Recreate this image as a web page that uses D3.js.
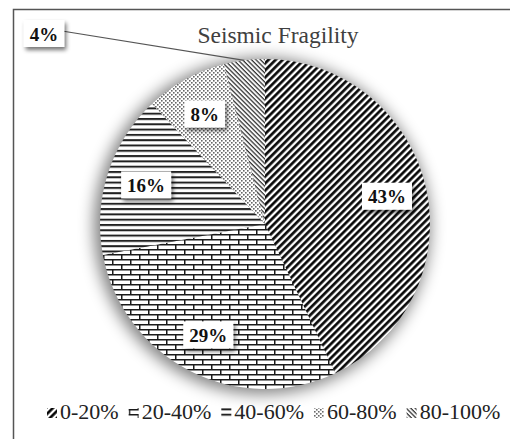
<!DOCTYPE html>
<html>
<head>
<meta charset="utf-8">
<script src="https://cdn.jsdelivr.net/npm/d3@7"></script>
<style>
  body { margin: 0; background: #fff; }
  svg { display: block; font-family: "Liberation Serif", "Times New Roman", serif; }
</style>
</head>
<body>
<svg id="chart" width="510" height="439"></svg>
<script>
// chart data
var categories = ['0-20%', '20-40%', '40-60%', '60-80%', '80-100%'];
var values = [43, 29, 16, 8, 4];
var labels = ['43%', '29%', '16%', '8%', '4%'];
var patternIds = ['p-diag', 'p-brick', 'p-hline', 'p-dots', 'p-back'];

var svg = d3.select('#chart');

var cx = 265, cy = 224, radius = 165;

var defs = svg.append('defs');

/*
 * Fill patterns
 */
var diag = defs.append('pattern')
  .attr('id', 'p-diag')
  .attr('patternUnits', 'userSpaceOnUse')
  .attr('width', 5).attr('height', 10)
  .attr('patternTransform', 'rotate(45)');
diag.append('rect').attr('width', 5).attr('height', 10).attr('fill', '#fff');
diag.append('line').attr('x1', 1.4).attr('x2', 1.4).attr('y1', 0).attr('y2', 10)
  .attr('stroke', '#000').attr('stroke-width', 2.6);

var brick = defs.append('pattern')
  .attr('id', 'p-brick')
  .attr('patternUnits', 'userSpaceOnUse')
  .attr('width', 18).attr('height', 10);
brick.append('rect').attr('width', 18).attr('height', 10).attr('fill', '#fff');
brick.append('path')
  .attr('d', 'M0,0.75H18M0,5.75H18M0.75,0V5.75M9.75,5.75V10')
  .attr('stroke', '#1a1a1a').attr('stroke-width', 1.5).attr('fill', 'none');

var hline = defs.append('pattern')
  .attr('id', 'p-hline')
  .attr('patternUnits', 'userSpaceOnUse')
  .attr('width', 10).attr('height', 5.3);
hline.append('rect').attr('width', 10).attr('height', 5.3).attr('fill', '#fff');
hline.append('line').attr('x1', 0).attr('x2', 10).attr('y1', 1).attr('y2', 1)
  .attr('stroke', '#222').attr('stroke-width', 2);

var dots = defs.append('pattern')
  .attr('id', 'p-dots')
  .attr('patternUnits', 'userSpaceOnUse')
  .attr('width', 4).attr('height', 4);
dots.append('rect').attr('width', 4).attr('height', 4).attr('fill', '#fff');
dots.append('rect').attr('x', 0).attr('y', 0).attr('width', 1.6).attr('height', 1.6).attr('fill', '#666');
dots.append('rect').attr('x', 2).attr('y', 2).attr('width', 1.6).attr('height', 1.6).attr('fill', '#666');

var back = defs.append('pattern')
  .attr('id', 'p-back')
  .attr('patternUnits', 'userSpaceOnUse')
  .attr('width', 3.2).attr('height', 10)
  .attr('patternTransform', 'rotate(-45)');
back.append('rect').attr('width', 3.2).attr('height', 10).attr('fill', '#fff');
back.append('line').attr('x1', 1).attr('x2', 1).attr('y1', 0).attr('y2', 10)
  .attr('stroke', '#333').attr('stroke-width', 1.3);

// soft glow under the pie
defs.append('filter').attr('id', 'glow')
  .attr('x', '-30%').attr('y', '-30%').attr('width', '160%').attr('height', '160%')
  .append('feGaussianBlur').attr('stdDeviation', 8);

// drop shadow for label boxes
var shadow = defs.append('filter').attr('id', 'box-shadow')
  .attr('x', '-40%').attr('y', '-40%').attr('width', '190%').attr('height', '200%');
shadow.append('feGaussianBlur').attr('in', 'SourceAlpha').attr('stdDeviation', 2);
shadow.append('feOffset').attr('dx', 2).attr('dy', 3).attr('result', 'off');
shadow.append('feComponentTransfer').append('feFuncA').attr('type', 'linear').attr('slope', 0.55);
var merge = shadow.append('feMerge');
merge.append('feMergeNode');
merge.append('feMergeNode').attr('in', 'SourceGraphic');

// outer frame
svg.append('rect')
  .attr('x', 13.5).attr('y', 9.5)
  .attr('width', 530).attr('height', 460)
  .attr('fill', '#fff')
  .attr('stroke', '#555')
  .attr('stroke-width', 1.5);

// title
svg.append('text')
  .attr('x', 278).attr('y', 43)
  .attr('text-anchor', 'middle')
  .attr('font-size', 23.5)
  .attr('fill', '#404040')
  .text('Seismic Fragility');

/*
 * Pie
 */
var pie = d3.pie().sort(null).value(function(d) { return d; });
var arcs = pie(values);
var arc = d3.arc().innerRadius(0).outerRadius(radius);
var labelArc = d3.arc().innerRadius(125).outerRadius(125);

var group = svg.append('g')
  .attr('transform', 'translate(' + cx + ',' + cy + ')');

group.append('circle')
  .attr('r', radius + 3)
  .attr('cx', -3).attr('cy', 2)
  .attr('fill', '#000')
  .attr('opacity', 0.5)
  .attr('filter', 'url(#glow)');

group.selectAll('.slice')
  .data(arcs)
  .enter().append('path')
  .attr('class', 'slice')
  .attr('d', arc)
  .attr('fill', function(d, i) { return 'url(#' + patternIds[i] + ')'; });

/*
 * Data labels
 */
function labelPosition(d, i) {
  if (i === 4) {
    // small slice label is pulled outside, top-left
    return [-221, -190];
  }
  return labelArc.centroid(d);
}

// leader line for the outside label
var small = arcs[4];
var mid = (small.startAngle + small.endAngle) / 2;
var edge = [Math.sin(mid) * radius, -Math.cos(mid) * radius];
var outside = labelPosition(small, 4);
group.append('path')
  .attr('d', 'M' + (outside[0] + 18) + ',' + (outside[1] - 3) + 'L' + edge[0] + ',' + edge[1])
  .attr('stroke', '#555')
  .attr('stroke-width', 1.2)
  .attr('fill', 'none');

var label = group.selectAll('.label')
  .data(arcs)
  .enter().append('g')
  .attr('class', 'label')
  .attr('transform', function(d, i) {
    var p = labelPosition(d, i);
    return 'translate(' + p[0] + ',' + p[1] + ')';
  });

label.append('text')
  .attr('text-anchor', 'middle')
  .attr('dy', '0.35em')
  .attr('font-size', 19)
  .attr('font-weight', 'bold')
  .attr('fill', '#111')
  .text(function(d, i) { return labels[i]; });

label.each(function() {
  var g = d3.select(this);
  var bb = g.select('text').node().getBBox();
  g.insert('rect', 'text')
    .attr('x', bb.x - 6)
    .attr('y', -14)
    .attr('width', bb.width + 12)
    .attr('height', 27)
    .attr('fill', '#fff')
    .attr('filter', 'url(#box-shadow)');
});

/*
 * Legend
 */
var legend = svg.append('g').attr('class', 'legend');
var lx = 47, ly = 419;
categories.forEach(function(c, i) {
  var item = legend.append('g').attr('transform', 'translate(' + lx + ',' + ly + ')');
  item.append('rect')
    .attr('x', 0).attr('y', -11)
    .attr('width', 10).attr('height', 10)
    .attr('fill', 'url(#' + patternIds[i] + ')');
  var t = item.append('text')
    .attr('x', 13)
    .attr('y', 0)
    .attr('font-size', 22)
    .attr('fill', '#222')
    .text(c);
  lx += 13 + t.node().getComputedTextLength() + 10;
});
</script>
</body>
</html>
